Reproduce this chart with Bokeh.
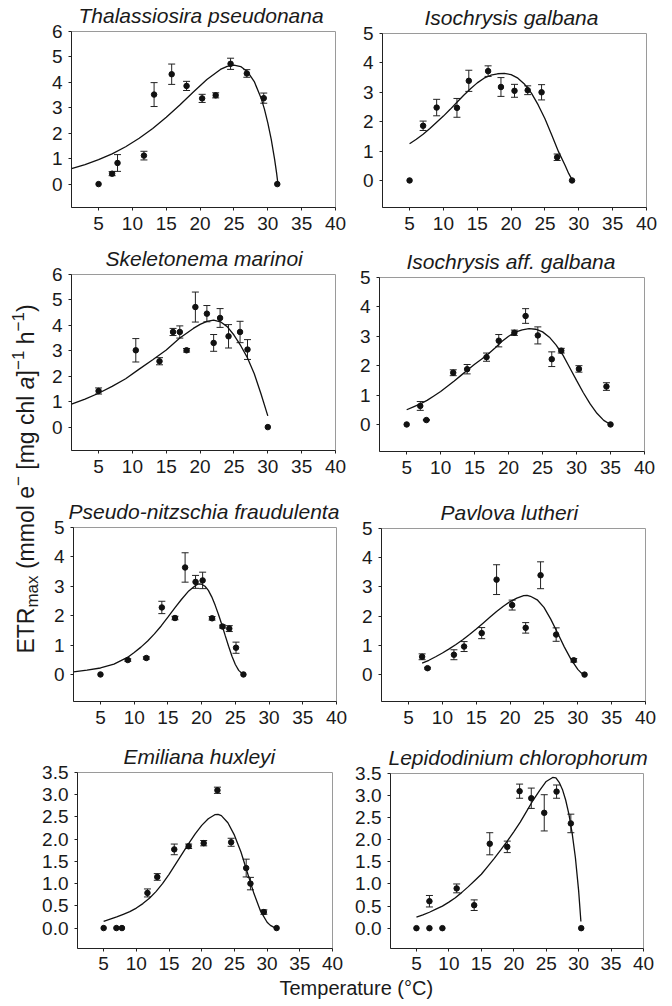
import math
from bokeh.plotting import figure
from bokeh.models import Range1d, FixedTicker, Whisker, TeeHead, ColumnDataSource, NumeralTickFormatter
from bokeh.layouts import row, column
from bokeh.core.properties import value
from bokeh.embed import file_html
from bokeh.resources import INLINE

FONT = "Liberation Sans"
INK = "#1a1a1a"
DROP = 0.27  # text glyph baseline renders this many em below its anchor; compensate

# ---------------- data ----------------
X_TICKS = [5, 10, 15, 20, 25, 30, 35, 40]

# Thalassiosira pseudonana
T1 = [5, 7.0, 7.8, 11.7, 13.2, 15.8, 18.0, 20.3, 22.3, 24.5, 26.9, 29.4, 31.4]
Y1 = [0, 0.41, 0.83, 1.12, 3.52, 4.32, 3.86, 3.37, 3.49, 4.73, 4.35, 3.38, 0]
E1 = [0, 0.08, 0.33, 0.17, 0.47, 0.40, 0.18, 0.16, 0.10, 0.22, 0.15, 0.20, 0]
CT1 = [1, 3, 5, 7, 9, 11, 13, 15, 17, 19, 21, 23, 24, 25, 26, 27, 28, 29, 29.5, 30, 30.5, 31, 31.3, 31.5]
CY1 = [0.61, 0.77, 0.96, 1.19, 1.47, 1.80, 2.19, 2.63, 3.11, 3.62, 4.11, 4.51, 4.63, 4.68, 4.62, 4.42, 4.03,
       3.39, 2.95, 2.41, 1.77, 0.98, 0.43, 0.0]

# Isochrysis galbana
T2 = [5, 7.0, 9.0, 12.0, 13.75, 16.6, 18.5, 20.5, 22.45, 24.5, 26.8, 29.0]
Y2 = [0, 1.86, 2.48, 2.47, 3.39, 3.72, 3.18, 3.05, 3.07, 3.00, 0.79, 0]
E2 = [0, 0.16, 0.28, 0.32, 0.36, 0.18, 0.32, 0.22, 0.15, 0.26, 0.11, 0]
CT2 = [5, 6, 7, 8, 9, 10, 11, 12, 13, 14, 15, 16, 17, 18, 19, 20, 21, 22, 23, 24, 25, 26, 27, 28, 28.5, 29]
CY2 = [1.25, 1.40, 1.57, 1.77, 1.98, 2.19, 2.42, 2.66, 2.90, 3.12, 3.32, 3.48, 3.58, 3.63, 3.64, 3.60, 3.48,
       3.27, 2.97, 2.57, 2.10, 1.55, 0.98, 0.50, 0.24, 0.03]

# Skeletonema marinoi
T3 = [5, 10.5, 14.0, 16.0, 17.0, 18.0, 19.3, 21.0, 22.0, 22.95, 24.2, 25.9, 27.0, 30.0]
Y3 = [1.42, 3.02, 2.59, 3.74, 3.74, 3.02, 4.72, 4.46, 3.31, 4.29, 3.57, 3.74, 3.05, 0]
E3 = [0.12, 0.46, 0.14, 0.14, 0.24, 0.07, 0.59, 0.32, 0.33, 0.37, 0.46, 0.42, 0.39, 0]
CT3 = [1, 3, 5, 7, 9, 11, 13, 15, 17, 19, 20, 21, 22, 23, 24, 25, 26, 27, 28, 29, 30]
CY3 = [0.90, 1.10, 1.33, 1.60, 1.90, 2.28, 2.65, 3.03, 3.50, 3.88, 4.04, 4.16, 4.21, 4.14, 3.95, 3.62, 3.20,
       2.72, 2.10, 1.30, 0.44]

# Isochrysis aff. galbana
T4 = [5, 7.0, 7.9, 11.85, 13.9, 16.75, 18.55, 20.85, 22.5, 24.3, 26.35, 27.75, 30.35, 34.4, 35.0]
Y4 = [0, 0.63, 0.15, 1.76, 1.88, 2.29, 2.85, 3.12, 3.69, 3.03, 2.22, 2.51, 1.89, 1.29, 0]
E4 = [0, 0.15, 0.02, 0.10, 0.16, 0.14, 0.21, 0.09, 0.25, 0.29, 0.25, 0.08, 0.11, 0.13, 0]
CT4 = [5, 6, 7, 8, 9, 10, 11, 12, 13, 14, 15, 16, 17, 18, 19, 20, 21, 22, 23, 24, 25, 26, 27, 28, 29, 30,
       31, 32, 33, 34, 35]
CY4 = [0.50, 0.60, 0.70, 0.82, 0.97, 1.12, 1.30, 1.48, 1.67, 1.86, 2.05, 2.22, 2.40, 2.60, 2.82, 3.00, 3.14,
       3.22, 3.26, 3.24, 3.15, 2.97, 2.70, 2.36, 1.93, 1.50, 1.08, 0.70, 0.38, 0.14, 0.0]

# Pseudo-nitzschia fraudulenta
T5 = [5, 9.05, 11.8, 14.1, 16.05, 17.55, 19.1, 20.15, 21.55, 23.1, 24.1, 25.1, 26.2]
Y5 = [0, 0.49, 0.56, 2.28, 1.92, 3.64, 3.15, 3.20, 1.91, 1.63, 1.56, 0.91, 0]
E5 = [0, 0.04, 0.04, 0.21, 0.06, 0.50, 0.22, 0.28, 0.06, 0.05, 0.10, 0.19, 0]
CT5 = [1, 3, 5, 7, 9, 10, 11, 12, 13, 14, 15, 16, 17, 18, 19, 19.5, 20, 20.5, 21, 21.5, 22, 22.5, 23, 23.5,
       24, 24.5, 25, 25.5, 26, 26.2]
CY5 = [0.09, 0.15, 0.22, 0.35, 0.58, 0.75, 0.93, 1.14, 1.38, 1.65, 1.95, 2.26, 2.55, 2.82, 3.01, 3.08, 3.07,
       3.00, 2.86, 2.64, 2.36, 2.04, 1.69, 1.32, 0.96, 0.62, 0.34, 0.14, 0.03, 0.0]

# Pavlova lutheri
T6 = [7.0, 7.8, 11.7, 13.2, 15.8, 18.0, 20.3, 22.3, 24.5, 26.8, 29.4, 31.0]
Y6 = [0.61, 0.22, 0.68, 0.96, 1.42, 3.25, 2.38, 1.60, 3.40, 1.37, 0.49, 0]
E6 = [0.10, 0.03, 0.17, 0.17, 0.19, 0.51, 0.17, 0.18, 0.46, 0.23, 0.06, 0]
CT6 = [7, 8, 9, 10, 11, 12, 13, 14, 15, 16, 17, 18, 19, 20, 21, 22, 22.5, 23, 24, 25, 26, 27, 28, 29, 30,
       30.5, 31]
CY6 = [0.39, 0.49, 0.61, 0.74, 0.88, 1.03, 1.19, 1.37, 1.56, 1.76, 1.96, 2.16, 2.34, 2.50, 2.62, 2.70, 2.71,
       2.68, 2.56, 2.30, 1.90, 1.43, 0.95, 0.52, 0.18, 0.06, 0.0]

# Emiliana huxleyi
T7 = [5, 6.95, 7.8, 11.7, 13.2, 15.8, 18.0, 20.3, 22.4, 24.5, 26.8, 27.45, 29.5, 31.45]
Y7 = [0, 0, 0, 0.79, 1.15, 1.77, 1.84, 1.91, 3.10, 1.93, 1.35, 1.00, 0.36, 0]
E7 = [0, 0, 0, 0.09, 0.075, 0.12, 0.05, 0.06, 0.07, 0.09, 0.20, 0.14, 0.05, 0]
CT7 = [5, 6, 7, 8, 9, 10, 11, 12, 13, 14, 15, 16, 17, 18, 19, 20, 21, 22, 22.5, 23, 24, 25, 26, 27, 28, 29,
       30, 30.5, 31, 31.3]
CY7 = [0.15, 0.20, 0.25, 0.31, 0.37, 0.45, 0.55, 0.67, 0.82, 1.00, 1.21, 1.44, 1.67, 1.90, 2.12, 2.31, 2.46,
       2.55, 2.56, 2.53, 2.37, 2.09, 1.71, 1.24, 0.77, 0.38, 0.13, 0.06, 0.02, 0.0]

# Lepidodinium chlorophorum
T8 = [5, 7.0, 7.0, 9.0, 11.2, 13.9, 16.3, 19.0, 20.9, 22.7, 24.7, 26.6, 28.8, 30.4]
Y8 = [0, 0, 0.61, 0, 0.90, 0.52, 1.91, 1.84, 3.10, 2.94, 2.61, 3.09, 2.37, 0]
E8 = [0, 0, 0.13, 0, 0.10, 0.12, 0.25, 0.13, 0.16, 0.23, 0.41, 0.15, 0.21, 0]
CT8 = [5, 6, 7, 8, 9, 10, 11, 12, 13, 14, 15, 16, 17, 18, 19, 20, 21, 22, 23, 24, 25, 26, 26.5, 27, 27.5,
       28, 28.5, 29, 29.5, 30, 30.2, 30.35]
CY8 = [0.25, 0.30, 0.36, 0.43, 0.50, 0.59, 0.69, 0.81, 0.94, 1.08, 1.22, 1.40, 1.58, 1.77, 1.97, 2.18, 2.40,
       2.65, 2.90, 3.12, 3.32, 3.41, 3.40, 3.30, 3.14, 2.90, 2.58, 2.15, 1.60, 0.85, 0.45, 0.15]

Y_TICKS_6 = [0, 1, 2, 3, 4, 5, 6]
Y_TICKS_5 = [0, 1, 2, 3, 4, 5]
Y_TICKS_35 = [0, 0.5, 1.0, 1.5, 2.0, 2.5, 3.0, 3.5]

X_LABEL = "Temperature (°C)"


def blank(W, H):
    f = figure(width=W, height=H, x_range=Range1d(0, W), y_range=Range1d(0, H),
               x_axis_location=None, y_axis_location=None, min_border=0, frame_align=False,
               output_backend="svg", toolbar_location=None, outline_line_color=None)
    f.grid.visible = False
    f.background_fill_color = "white"
    f.border_fill_color = "white"
    return f


def panel(title, toff, T, Y, E, CT, CY, ytop, ybot, yticks, W, H, bl, br, bt, bb, xstand, fmt=None):
    p = figure(width=W, height=H, x_range=Range1d(1, 40), y_range=Range1d(ybot, ytop),
               output_backend="svg", toolbar_location=None, frame_align=False,
               min_border_left=bl, min_border_right=br, min_border_top=bt, min_border_bottom=bb)
    p.title.text = title
    p.title.text_font = FONT
    p.title.text_font_style = "italic"
    p.title.text_font_size = "21px"
    p.title.text_color = INK
    p.title.align = "left"
    p.title.offset = toff
    p.title.standoff = 5
    p.title.vertical_align = "top"
    p.background_fill_color = "white"
    p.border_fill_color = "white"
    p.outline_line_color = "#9a9a9a"
    p.outline_line_width = 1
    p.xgrid.visible = False
    p.ygrid.visible = False
    p.xaxis.ticker = FixedTicker(ticks=X_TICKS)
    p.yaxis.ticker = FixedTicker(ticks=yticks)
    if fmt:
        p.yaxis.formatter = NumeralTickFormatter(format=fmt)
    for ax in (p.xaxis, p.yaxis):
        ax.axis_line_color = "#222222"
        ax.axis_line_width = 1
        ax.major_tick_line_color = "#222222"
        ax.major_tick_out = 3
        ax.major_tick_in = 0
        ax.minor_tick_line_color = None
        ax.major_label_text_font = FONT
        ax.major_label_text_font_size = "19px"
        ax.major_label_text_color = INK
    p.xaxis.major_label_standoff = xstand
    p.yaxis.major_label_standoff = 6

    p.line(CT, CY, line_width=1.3, line_color="#111111")

    xs = [t for t, e in zip(T, E) if e > 0]
    ys = [y for y, e in zip(Y, E) if e > 0]
    es = [e for e in E if e > 0]
    src = ColumnDataSource(data=dict(base=xs, upper=[y + e for y, e in zip(ys, es)],
                                     lower=[y - e for y, e in zip(ys, es)]))
    w = Whisker(source=src, base="base", upper="upper", lower="lower", dimension="height",
                line_color="#222222", line_width=1,
                upper_head=TeeHead(size=7, line_color="#222222", line_width=1),
                lower_head=TeeHead(size=7, line_color="#222222", line_width=1))
    p.add_layout(w)
    p.scatter(T, Y, size=5.5, fill_color="#111111", line_color="#111111")
    return p


# rows 1-3: left plots 302 wide (start x=48), right plots 312 wide (start x=350); row 4: 350 + 312
p1 = panel("Thalassiosira pseudonana", 7, T1, Y1, E1, CT1, CY1,
           6, -0.92, Y_TICKS_6, 302, 240, 22, 15, 31, 33, 6)
p2 = panel("Isochrysis galbana", 42, T2, Y2, E2, CT2, CY2,
           5, -0.92, Y_TICKS_5, 312, 240, 32, 16, 33, 33, 6)
p3 = panel("Skeletonema marinoi", 34, T3, Y3, E3, CT3, CY3,
           6, -0.92, Y_TICKS_6, 302, 250, 23, 15, 34, 40, 6)
p4 = panel("Isochrysis aff. galbana", 27, T4, Y4, E4, CT4, CY4,
           5, -0.92, Y_TICKS_5, 312, 250, 29, 18, 37, 39, 6)
p5 = panel("Pseudo-nitzschia fraudulenta", -5, T5, Y5, E5, CT5, CY5,
           5, -0.92, Y_TICKS_5, 302, 248, 25, 14, 37, 37, 6)
p6 = panel("Pavlova lutheri", 59, T6, Y6, E6, CT6, CY6,
           5, -0.92, Y_TICKS_5, 312, 248, 31, 17, 38, 37, 6)
p7 = panel("Emiliana huxleyi", 46, T7, Y7, E7, CT7, CY7,
           3.5, -0.46, Y_TICKS_35, 350, 240, 77, 18, 34, 30, 5, fmt="0.0")
p8 = panel("Lepidodinium chlorophorum", -2, T8, Y8, E8, CT8, CY8,
           3.5, -0.46, Y_TICKS_35, 312, 240, 40, 19, 35, 30, 5, fmt="0.0")

# ---------------- y-axis title strip (rotated pieces) ----------------
SH = 738
ystrip = blank(48, SH)
F, S = 23, 17
BASE, SUB, SUP = 31.5, 36.5, 22.0   # wanted baseline x positions
pieces = [  # text, size, style, baseline x, gap before (em of F), advance (em of own size)
    ("ETR", F, "normal", BASE, 0.0, 2.0),
    ("max", S, "normal", SUB, 0.0, 1.889),
    ("(mmol e", F, "normal", BASE, 0.278, 3.611),
    ("\u2212", S, "normal", SUP, 0.0, 0.584),
    ("[mg chl", F, "normal", BASE, 0.278, 3.223),
    ("a", F, "italic", BASE, 0.278, 0.556),
    ("]", F, "normal", BASE, 0.0, 0.278),
    ("\u22121", S, "normal", SUP, 0.0, 1.14),
    ("h", F, "normal", BASE, 0.278, 0.556),
    ("\u22121", S, "normal", SUP, 0.0, 1.14),
    (")", F, "normal", BASE, 0.0, 0.333),
]
total = sum(pc[4] * F + pc[5] * pc[1] for pc in pieces)
ypos = (SH - 478.5) - total / 2.0
for txt, sz, sty, bx, gap, adv in pieces:
    ypos += gap * F
    ystrip.text(x=[bx - DROP * sz], y=[ypos], text=[txt], angle=math.pi / 2, text_align="left",
                text_baseline="alphabetic", text_font=value(FONT), text_font_size=value(f"{sz}px"),
                text_font_style=sty, text_color=INK)
    ypos += adv * sz

# ---------------- x-axis title strip ----------------
xstrip = blank(662, 24)
xstrip.text(x=[279], y=[9 + DROP * 20], text=[X_LABEL], text_align="left", text_baseline="alphabetic",
            text_font=value(FONT), text_font_size=value("20px"), text_color=INK)

layout = column(
    row(ystrip, column(row(p1, p2, spacing=0), row(p3, p4, spacing=0), row(p5, p6, spacing=0), spacing=0),
        spacing=0),
    row(p7, p8, spacing=0),
    xstrip,
    spacing=0,
)

open("out.html", "w").write(file_html(layout, INLINE))
